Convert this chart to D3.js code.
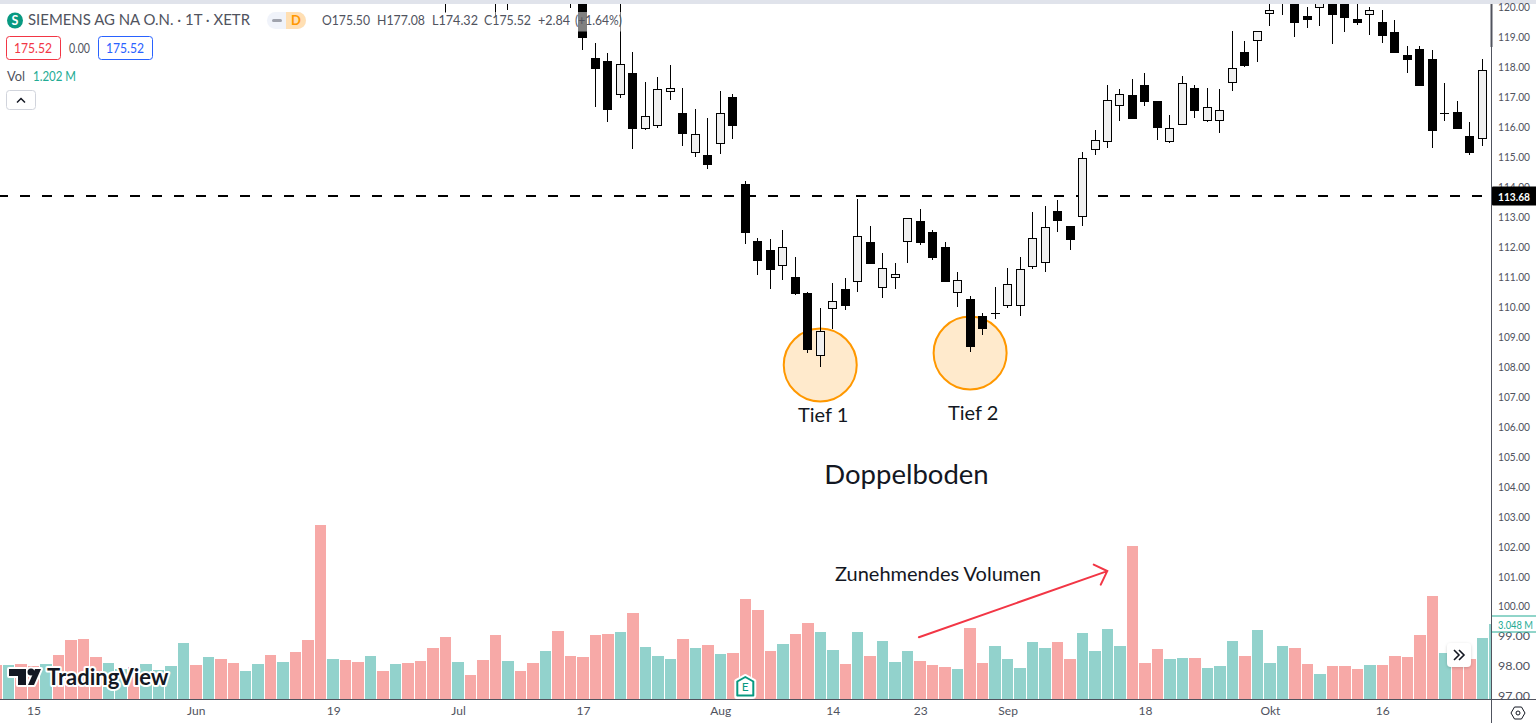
<!DOCTYPE html>
<html lang="de">
<head>
<meta charset="utf-8">
<title>Siemens AG Doppelboden</title>
<script src="https://cdn.jsdelivr.net/npm/d3@7/dist/d3.min.js"></script>
<style>
  html, body { margin: 0; padding: 0; background: #fff; }
  svg { display: block; }
  text { font-family: Lato, "Open Sans", sans-serif; }
  .tick text { fill: #50535e; font-size: 12px; }
</style>
</head>
<body>
<svg id="chart" width="1536" height="723"></svg>
<script>
// Daily candles, by bar number
const bars   = [35,39,40,45,46,47,48,49,50,51,52,53,54,55,56,57,58,59,60,61,62,63,64,65,66,67,68,69,70,71,72,73,74,75,76,77,78,79,80,81,82,83,84,85,86,87,88,89,90,91,92,93,94,95,96,97,98,99,100,101,102,103,104,105,106,107,108,109,110,111,112,113,114,115,116,117,118];
const opens  = [120.6,120.6,120.6,120.6,120.40,118.30,118.20,117.07,117.80,115.94,116.04,117.17,116.46,115.14,115.06,115.44,117.00,114.09,112.19,111.89,111.37,110.99,110.45,108.36,109.93,110.59,110.83,112.16,110.63,110.96,112.17,112.86,112.49,111.99,110.46,110.25,109.69,109.78,110.03,110.03,111.33,111.47,113.18,112.69,112.98,115.24,115.48,116.69,117.06,117.40,116.86,115.48,116.05,117.30,116.19,116.19,117.45,118.50,118.86,119.76,120.50,120.57,119.70,119.96,120.50,120.43,119.60,119.74,119.50,119.17,118.40,118.60,118.26,116.47,116.49,115.69,115.58];
const highs  = [121.0,121.0,121.0,121.0,120.90,118.80,118.47,120.57,118.50,117.50,117.66,118.06,117.30,116.60,116.30,117.20,117.10,114.18,112.29,112.26,112.56,111.66,110.48,109.95,110.79,110.95,113.59,112.68,111.78,111.45,112.95,113.26,112.56,112.16,111.15,110.34,109.79,110.65,111.29,111.66,113.15,113.36,113.56,112.69,115.15,115.90,117.40,117.26,117.60,117.80,116.86,116.40,117.70,117.40,117.30,117.26,119.20,118.87,119.20,120.57,120.63,120.73,120.00,120.57,120.90,120.73,120.57,120.00,119.90,119.57,118.70,118.70,118.57,117.46,116.86,116.16,118.27];
const lows   = [119.81,119.67,119.90,119.97,118.57,116.67,116.17,116.97,115.27,115.90,115.97,116.91,115.37,115.00,114.60,115.10,115.60,112.10,111.05,110.60,110.90,110.37,108.46,107.99,109.26,109.90,110.50,111.42,110.30,110.57,111.47,112.07,111.57,110.83,109.99,108.50,109.05,109.60,109.95,109.70,111.27,111.17,112.50,111.89,112.70,115.07,115.30,116.20,116.27,116.71,115.57,115.47,116.05,116.30,116.17,115.80,117.21,118.01,118.17,119.38,119.72,119.01,119.31,119.38,118.78,119.18,119.41,119.08,118.81,118.47,117.81,117.37,115.30,116.20,115.94,115.07,115.37];
const closes = [120.4,120.4,120.4,120.4,118.98,117.93,116.57,118.09,115.94,116.35,117.25,117.29,115.77,115.75,114.74,116.45,116.04,112.47,111.53,111.23,111.98,110.42,108.55,109.18,110.18,110.02,112.35,111.42,111.28,111.08,112.95,112.13,111.63,110.83,110.88,108.66,109.25,109.78,110.74,111.24,112.28,112.65,112.87,112.22,114.95,115.55,116.89,117.09,116.27,116.84,115.97,115.95,117.45,116.54,116.65,116.55,117.95,118.04,119.19,119.89,120.30,119.48,119.58,120.33,119.74,119.64,119.48,119.89,119.04,118.47,118.24,117.37,115.87,116.47,115.94,115.14,117.89];

// Traded volume in millions, bar -1 to bar 119, and whether the session closed up
const volumes = [1.38,1.38,1.42,1.34,1.42,1.79,2.40,2.44,1.71,1.46,1.22,1.30,1.42,1.18,1.34,2.28,1.38,1.71,1.63,1.46,1.14,1.42,1.79,1.50,1.91,2.40,7.07,1.63,1.59,1.50,1.75,1.14,1.42,1.46,1.54,2.07,2.52,1.50,0.98,1.59,2.60,1.54,1.14,1.46,1.95,2.76,1.75,1.71,2.60,2.64,2.72,3.50,2.11,1.75,1.63,2.44,2.07,2.20,1.83,1.87,4.07,3.62,1.95,2.24,2.64,3.09,2.72,1.99,1.42,2.72,1.75,2.36,1.50,1.95,1.54,1.38,1.30,1.22,2.89,1.46,2.15,1.63,1.26,2.32,2.07,2.32,1.63,2.68,1.95,2.85,2.15,6.22,1.46,2.03,1.63,1.67,1.67,1.26,1.34,2.36,1.75,2.80,1.46,2.15,2.07,1.42,1.02,1.34,1.34,1.22,1.38,1.38,1.75,1.71,2.60,4.19,1.87,1.63,1.63,2.48,3.048];
const volumeUp = [0,1,0,0,1,0,0,0,0,1,1,0,1,1,1,1,0,1,0,0,1,1,0,1,0,0,0,1,0,0,1,0,1,0,0,0,0,1,0,0,0,1,0,0,1,0,0,0,0,0,1,0,1,1,1,0,1,0,1,0,0,0,0,1,0,0,1,1,0,1,0,1,1,1,0,0,0,1,0,0,1,1,1,1,1,0,0,1,1,1,1,0,0,0,1,1,0,1,1,1,0,1,1,1,0,0,1,0,0,0,1,0,0,0,0,0,1,0,0,1,1];

const priceTicks = d3.range(97, 121);
const dateTickBars = [2,15,26,36,46,57,66,73,80,91,101,110];
const dateTickLabels = ["15","Jun","19","Jul","17","Aug","14","23","Sep","18","Okt","16"];

const necklinePrice = 113.68;
const lastVolume = 3.048;
const lows_marked = [
  { bar: 65, price: 108.05, label: "Tief 1", labelPrice: 106.37, shift: 3 },
  { bar: 77, price: 108.45, label: "Tief 2", labelPrice: 106.44, shift: 3 }
];
const arrowFrom = { bar: 72.9, price: 98.96 };
const arrowTo   = { bar: 87.98, price: 101.17 };

const W = 1536, H = 723, paneRight = 1491, paneTop = 4, paneBottom = 699;

// Scales: bar number to x, price to y, volume to y
const x = d3.scaleLinear().domain([0, 118]).range([8.4, 1482.2]);
const y = d3.scaleLinear().domain([120, 97]).range([7, 696]);
const v = d3.scaleLinear().domain([0, 7.07]).range([paneBottom, 525]);

const svg = d3.select("#chart");
svg.append("rect").attr("width", W).attr("height", H).attr("fill", "#fff");
svg.append("rect").attr("width", W).attr("height", paneTop).attr("fill", "#e0e3eb");

const defs = svg.append("defs");
defs.append("clipPath").attr("id", "pane").append("rect")
  .attr("x", 0).attr("y", paneTop).attr("width", paneRight).attr("height", paneBottom - paneTop);
const soft = defs.append("filter").attr("id", "soft").attr("x", "-30%").attr("y", "-30%").attr("width", "160%").attr("height", "160%");
soft.append("feDropShadow").attr("dx", 0).attr("dy", 1).attr("stdDeviation", 1.5).attr("flood-color", "#000").attr("flood-opacity", 0.18);

const pane = svg.append("g").attr("clip-path", "url(#pane)");

// Volume histogram along the bottom of the pane
const volBars = volumes.map((value, k) => ({ bar: k - 1, value, up: volumeUp[k] }));
pane.append("g").selectAll("rect").data(volBars).join("rect")
  .attr("x", d => Math.round(x(d.bar) - 5.7))
  .attr("width", d => Math.round(x(d.bar + 1) - 5.7) - Math.round(x(d.bar) - 5.7) - 1)
  .attr("y", d => Math.round(v(d.value)))
  .attr("height", d => paneBottom - Math.round(v(d.value)))
  .attr("fill", d => d.up ? "#92d2cc" : "#f7a9a7");

// Shaded circles around the two lows sit behind the candles
pane.append("g").selectAll("circle").data(lows_marked).join("circle")
  .attr("cx", d => x(d.bar)).attr("cy", d => y(d.price)).attr("r", 36.5)
  .attr("fill", "#ff9800").attr("fill-opacity", 0.2)
  .attr("stroke", "#ff9800").attr("stroke-width", 2);

// Neckline of the double bottom, behind the candles
pane.append("line")
  .attr("x1", 0).attr("x2", paneRight)
  .attr("y1", Math.round(y(necklinePrice))).attr("y2", Math.round(y(necklinePrice)))
  .attr("stroke", "#000").attr("stroke-width", 2)
  .attr("stroke-dasharray", "10 12").attr("stroke-dashoffset", 2);

// Candlesticks
const candles = bars.map((bar, k) => ({ bar, o: opens[k], h: highs[k], l: lows[k], c: closes[k] }));
const candle = pane.append("g").selectAll("g").data(candles).join("g");
candle.append("rect")
  .attr("x", d => Math.round(x(d.bar) - 0.5)).attr("width", 1)
  .attr("y", d => Math.round(y(d.h)))
  .attr("height", d => Math.round(y(d.l)) - Math.round(y(d.h)))
  .attr("fill", "#000");
candle.append("rect")
  .each(function (d) {
    const top = Math.round(y(Math.max(d.o, d.c)));
    const bottom = Math.round(y(Math.min(d.o, d.c)));
    const left = Math.round(x(d.bar) - 0.5) - 4;
    const sel = d3.select(this);
    if (d.c > d.o) {
      sel.attr("x", left + 0.5).attr("width", 8)
        .attr("y", top + 0.5).attr("height", Math.max(bottom - top - 1, 1))
        .attr("fill", "#f0f0f0").attr("stroke", "#000").attr("stroke-width", 1);
    } else {
      sel.attr("x", left).attr("width", 9)
        .attr("y", top).attr("height", Math.max(bottom - top, 1))
        .attr("fill", "#000");
    }
  });

// Hand-drawn arrow over the volume
const ax0 = x(arrowFrom.bar), ay0 = y(arrowFrom.price), ax1 = x(arrowTo.bar), ay1 = y(arrowTo.price);
const heading = Math.atan2(ay1 - ay0, ax1 - ax0);
const barb = (turn) => [ax1 - 15 * Math.cos(heading + turn), ay1 - 15 * Math.sin(heading + turn)];
svg.append("path")
  .attr("d", d3.line()([[ax0, ay0], [ax1, ay1]]) + d3.line()([barb(-Math.PI / 4), [ax1, ay1], barb(Math.PI / 4)]))
  .attr("fill", "none").attr("stroke", "#f23645").attr("stroke-width", 2).attr("stroke-linecap", "round");

// Annotation text
const note = (tx, ty, size, str) => svg.append("text").attr("x", tx).attr("y", ty)
  .attr("text-anchor", "middle").attr("dominant-baseline", "central")
  .attr("font-size", size).attr("fill", "#131722").text(str);
lows_marked.forEach(d => note(x(d.bar) + d.shift, y(d.labelPrice) - 1, 20, d.label));
note(906.5, 473, 27.5, "Doppelboden");
note(938, 572.5, 20, "Zunehmendes Volumen");

// Earnings marker on bar 59
const em = svg.append("g").attr("transform", `translate(${x(59)},0)`);
em.append("path").attr("d", "M-9,697 L-9,681 L0,676 L9,681 L9,695 Q9,697 7,697 Z")
  .attr("fill", "#fff").attr("stroke", "#fff").attr("stroke-width", 4).attr("stroke-linejoin", "round");
em.append("path").attr("d", "M-8,695.5 L-8,681.5 L0,677 L8,681.5 L8,695.5 Z")
  .attr("fill", "#fff").attr("stroke", "#089981").attr("stroke-width", 2).attr("stroke-linejoin", "round");
em.append("text").attr("y", 691).attr("text-anchor", "middle").attr("font-size", 12).attr("fill", "#089981").text("E");

// Legend: a translucent strip behind the title row lets the candles show through
svg.append("rect").attr("x", 5).attr("y", 12).attr("width", 617).attr("height", 19.5).attr("fill", "#fff").attr("fill-opacity", 0.5);
svg.append("circle").attr("cx", 15).attr("cy", 20.5).attr("r", 8).attr("fill", "#089981");
svg.append("text").attr("x", 15).attr("y", 25).attr("text-anchor", "middle").attr("font-size", 12.5).attr("font-weight", 700).attr("fill", "#fff").text("S");

const legend = (tx, ty, str, fill, size, weight, span) => {
  const t = svg.append("text")
    .attr("x", tx).attr("y", ty).attr("fill", fill || "#50535e").attr("font-size", size || 13)
    .attr("font-weight", weight || 400).text(str);
  if (span) t.attr("textLength", span).attr("lengthAdjust", "spacingAndGlyphs");
  return t;
};
legend(28, 25, "SIEMENS AG NA O.N. · 1T · XETR", "#50535e", 15, 400, 222);
svg.append("rect").attr("x", 267).attr("y", 12).attr("width", 39).attr("height", 17).attr("rx", 8.5).attr("fill", "#f0f3fa");
svg.append("path").attr("d", "M286,12 h11.5 a8.5,8.5 0 0 1 0,17 h-11.5 Z").attr("fill", "#ffdfb3");
svg.append("rect").attr("x", 272).attr("y", 19).attr("width", 10).attr("height", 3).attr("rx", 1.5).attr("fill", "#a0a3ad");
legend(291, 25, "D", "#ff9800", 13, 700);
const ohlc = [[322, "O175.50", 48], [377, "H177.08", 48], [432, "L174.32", 46], [484, "C175.52", 47], [538, "+2.84", 32], [575, "(+1.64%)", 47]];
ohlc.forEach(([tx, str, span]) => legend(tx, 25, str, "#50535e", 13.5, 400, span));

svg.append("rect").attr("x", 6.5).attr("y", 36.5).attr("width", 54).attr("height", 23).attr("rx", 3).attr("fill", "#fff").attr("stroke", "#f23645");
legend(14, 53, "175.52", "#f23645", 13.5, 400, 38);
legend(69, 53, "0.00", "#50535e", 12.5, 400, 21);
svg.append("rect").attr("x", 98.5).attr("y", 36.5).attr("width", 54).attr("height", 23).attr("rx", 3).attr("fill", "#fff").attr("stroke", "#2962ff");
legend(106, 53, "175.52", "#2962ff", 13.5, 400, 38);
legend(7, 81, "Vol", "#50535e", 13.5, 400, 18);
legend(33, 81, "1.202 M", "#22ab94", 13.5, 400, 43);
svg.append("rect").attr("x", 6.5).attr("y", 90.5).attr("width", 29).attr("height", 19).attr("rx", 3).attr("fill", "#fff").attr("stroke", "#d1d4dc");
svg.append("path").attr("d", "M17,102.5 l4,-4 l4,4").attr("fill", "none").attr("stroke", "#131722").attr("stroke-width", 1.5);

// TradingView wordmark with a white halo
const logo = svg.append("g");
const logoMark = "M9,669 H26 V685 H18 V676 H9 Z M28,685 L35,669 H41 L34,685 Z";
logo.append("path").attr("d", logoMark).attr("fill", "#fff").attr("stroke", "#fff").attr("stroke-width", 4).attr("stroke-linejoin", "round");
logo.append("circle").attr("cx", 31).attr("cy", 672).attr("r", 3.5).attr("fill", "#fff").attr("stroke", "#fff").attr("stroke-width", 4);
logo.append("text").attr("x", 47).attr("y", 685).attr("font-size", 22).attr("font-weight", 700)
  .attr("fill", "#fff").attr("stroke", "#fff").attr("stroke-width", 4).attr("stroke-linejoin", "round").text("TradingView");
logo.append("path").attr("d", logoMark).attr("fill", "#131722");
logo.append("circle").attr("cx", 31).attr("cy", 672).attr("r", 3.5).attr("fill", "#131722");
logo.append("text").attr("x", 47).attr("y", 685).attr("font-size", 22).attr("font-weight", 700).attr("fill", "#131722").text("TradingView");

// Right price axis
const priceAxis = d3.axisRight(y).tickValues(priceTicks).tickFormat(d3.format(".2f")).tickSize(0).tickPadding(0);
const pa = svg.append("g").attr("transform", `translate(1498,0)`).call(priceAxis);
pa.select(".domain").remove();
pa.selectAll("text").attr("textLength", 32).attr("lengthAdjust", "spacingAndGlyphs");

// Bottom date axis
const dateAxis = d3.axisBottom(x).tickValues(dateTickBars).tickFormat((d, k) => dateTickLabels[k]).tickSize(0).tickPadding(0);
const da = svg.append("g").attr("transform", `translate(0,706)`).call(dateAxis);
da.select(".domain").remove();

// Pane borders
svg.append("line").attr("x1", 0).attr("x2", W).attr("y1", paneBottom + 0.5).attr("y2", paneBottom + 0.5).attr("stroke", "#50535e");
svg.append("line").attr("x1", paneRight + 0.5).attr("x2", paneRight + 0.5).attr("y1", paneTop).attr("y2", H).attr("stroke", "#50535e");
svg.append("line").attr("x1", paneRight + 0.5).attr("x2", paneRight + 0.5).attr("y1", paneTop).attr("y2", 47).attr("stroke", "#50535e").attr("stroke-width", 2);

// Current-value tags on the price axis
const tagY = Math.round(y(necklinePrice));
svg.append("rect").attr("x", paneRight + 1).attr("y", tagY - 9.5).attr("width", W - paneRight).attr("height", 19).attr("rx", 1).attr("fill", "#000");
legend(1498, tagY + 4.5, necklinePrice.toFixed(2), "#fff", 12, 700, 32);
const volY = Math.round(v(lastVolume));
svg.append("rect").attr("x", paneRight + 1).attr("y", volY - 8).attr("width", W - paneRight).attr("height", 16).attr("fill", "#fff");
svg.append("path").attr("d", d3.line()([[paneRight + 1, volY - 8], [W, volY - 8]]) + d3.line()([[paneRight + 1, volY + 8], [W, volY + 8]])).attr("stroke", "#22ab94").attr("fill", "none");
legend(1498, volY + 4.5, "3.048 M", "#22ab94", 10.5, 400, 35);

// Scroll-to-latest button
svg.append("rect").attr("x", 1447).attr("y", 643).attr("width", 24).attr("height", 24).attr("rx", 4).attr("fill", "#fff").attr("filter", "url(#soft)");
svg.append("path").attr("d", "M1454,650 l5,5 l-5,5 M1459,650 l5,5 l-5,5").attr("fill", "none").attr("stroke", "#131722").attr("stroke-width", 1.6);

// Settings icon
svg.append("path").attr("d", "M1511,713 L1514.5,707 H1521.5 L1525,713 L1521.5,719 H1514.5 Z").attr("fill", "none").attr("stroke", "#131722");
svg.append("circle").attr("cx", 1518).attr("cy", 713).attr("r", 2).attr("fill", "none").attr("stroke", "#131722");
</script>
</body>
</html>
